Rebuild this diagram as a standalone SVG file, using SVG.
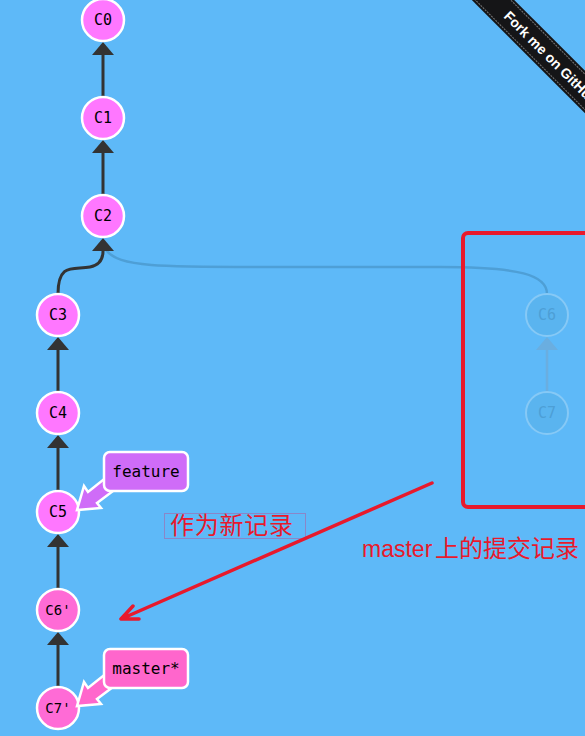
<svg xmlns="http://www.w3.org/2000/svg" width="585" height="736" viewBox="0 0 585 736">
<style>
.bg{fill:#5eb9f8}
.edge{stroke:#333;stroke-width:3;fill:none}
.head{fill:#333}
.node circle{stroke:#fff;stroke-width:2.5}
.c{fill:#ff77ff}
.m{fill:#ff6bd6}
.t{font-family:"DejaVu Sans Mono","Liberation Mono",monospace;font-size:15px;fill:#000;text-anchor:middle;dominant-baseline:central}
.ts{font-size:14px}
.faded circle{fill:#5ab4ef;stroke:#86c9f6;stroke-width:2}
.faded text{fill:#4d9fd6}
.fedge{stroke:#4e9fd6;stroke-width:2.5;fill:none}
.fhead{fill:#6aaee0}
.lbl rect,.lbl path{stroke:#fff;stroke-width:2.5}
.lt{font-family:"DejaVu Sans Mono","Liberation Mono",monospace;font-size:16px;fill:#000;text-anchor:middle;dominant-baseline:central}
.red{fill:#e8192c;font-family:"Noto Sans CJK SC",sans-serif}
.lat{font-family:"Liberation Sans","Noto Sans CJK SC",sans-serif}
</style>
<rect class="bg" x="0" y="0" width="585" height="736"/>

<g id="connectors">
  <path class="fedge" d="M106,250 C120,268 160,267 300,267 L440,267 C520,267 547,275 547,294"/>
  <path class="fedge" style="stroke:#6aaee0" d="M547,392 L547,350"/>
  <polygon class="fhead" points="547,337 536,350 558,350"/>
  <path class="edge" d="M103,97 L103,55"/>
  <polygon class="head" points="103,42 92,55 114,55"/>
  <path class="edge" d="M103,195 L103,153"/>
  <polygon class="head" points="103,140 92,153 114,153"/>
  <path class="edge" d="M58,294 C58,262 74,270 90,267 C100,265 103,258 103,251"/>
  <polygon class="head" points="103,238 92,251 114,251"/>
  <path class="edge" d="M58,392 L58,350"/>
  <polygon class="head" points="58,337 47,350 69,350"/>
  <path class="edge" d="M58,491 L58,448"/>
  <polygon class="head" points="58,435 47,448 69,448"/>
  <path class="edge" d="M58,589 L58,547"/>
  <polygon class="head" points="58,534 47,547 69,547"/>
  <path class="edge" d="M58,687 L58,645"/>
  <polygon class="head" points="58,632 47,645 69,645"/>
</g>

<g id="C0" class="node"><circle class="c" cx="103" cy="20" r="21"/><text class="t" x="103" y="20">C0</text></g>
<g id="C1" class="node"><circle class="c" cx="103" cy="118" r="21"/><text class="t" x="103" y="118">C1</text></g>
<g id="C2" class="node"><circle class="c" cx="103" cy="216" r="21"/><text class="t" x="103" y="216">C2</text></g>
<g id="C3" class="node"><circle class="c" cx="58" cy="315" r="21"/><text class="t" x="58" y="315">C3</text></g>
<g id="C4" class="node"><circle class="c" cx="58" cy="413" r="21"/><text class="t" x="58" y="413">C4</text></g>
<g id="C5" class="node"><circle class="c" cx="58" cy="512" r="21"/><text class="t" x="58" y="512">C5</text></g>
<g id="C6p" class="node"><circle class="m" cx="58" cy="610" r="21"/><text class="t ts" x="58" y="610">C6'</text></g>
<g id="C7p" class="node"><circle class="m" cx="58" cy="708" r="21"/><text class="t ts" x="58" y="708">C7'</text></g>
<g id="C6" class="node faded"><circle cx="547" cy="315" r="21"/><text class="t" x="547" y="315">C6</text></g>
<g id="C7" class="node faded"><circle cx="547" cy="413" r="21"/><text class="t" x="547" y="413">C7</text></g>

<g id="feature" class="lbl">
  <path fill="#cf6cf8" d="M77,510 L84,486 L88,492 L108,476 L117,488 L97,503 L101,508 Z"/>
  <rect x="104" y="452" width="84" height="39" rx="6" fill="#cf6cf8"/>
  <text class="lt" x="146" y="471">feature</text>
</g>
<g id="master" class="lbl">
  <path fill="#ff66cc" d="M77,706 L84,682 L88,688 L108,672 L117,684 L97,699 L101,704 Z"/>
  <rect x="104" y="649" width="84" height="39" rx="6" fill="#ff66cc"/>
  <text class="lt" x="146" y="668">master*</text>
</g>

<g id="annotations">
  <rect x="463" y="233" width="140" height="274" rx="5" fill="none" stroke="#e8192c" stroke-width="4"/>
  <rect x="164.5" y="513.5" width="141" height="25" fill="none" stroke="#8a86c8" stroke-width="1"/>
  <text class="red" x="170" y="534" font-size="24" textLength="123" lengthAdjust="spacing">作为新记录</text>
  <path d="M432,483 L121,619 M121,619 L139,619 M121,619 L133,606" stroke="#e8192c" stroke-width="3.5" fill="none" stroke-linecap="round"/>
  <text class="red" x="362" y="557" font-size="24"><tspan class="lat" font-size="23">master</tspan><tspan x="435">上的提交记录</tspan></text>
</g>

<g id="ribbon" transform="translate(493,0) rotate(45)">
  <rect x="-20" y="-15" width="220" height="30" fill="#151517"/>
  <line x1="-20" y1="-12.5" x2="200" y2="-12.5" stroke="#777" stroke-width="1" stroke-dasharray="2,1"/>
  <line x1="-20" y1="12.5" x2="200" y2="12.5" stroke="#777" stroke-width="1" stroke-dasharray="2,1"/>
  <text x="19" y="5" font-family="'Liberation Sans',sans-serif" font-size="14" font-weight="bold" fill="#fff">Fork me on GitHub</text>
</g>
</svg>
